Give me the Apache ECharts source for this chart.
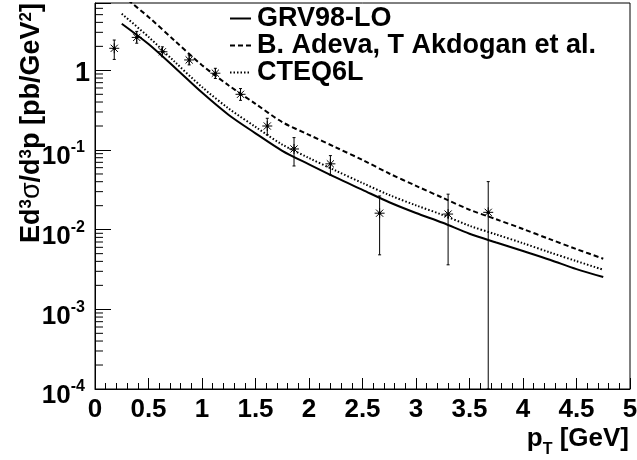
<!DOCTYPE html>
<html>
<head>
<meta charset="utf-8">
<script src="https://cdn.jsdelivr.net/npm/echarts@6/dist/echarts.min.js"></script>
<style>
html,body{margin:0;padding:0;background:#fff;}
#chart{width:637px;height:460px;}
</style>
</head>
<body>
<div id="chart"></div>
<script>
// ---- data points (measured) ----
const pT        = [0.18, 0.39, 0.63, 0.88, 1.125, 1.36, 1.61, 1.86, 2.20, 2.66, 3.30, 3.675];
const sigma     = [1.89, 2.59, 1.71, 1.35, 0.92, 0.50, 0.20, 0.103, 0.067, 0.0161, 0.0157, 0.0165];
const sigmaHigh = [2.40, 3.08, 1.97, 1.56, 1.06, 0.59, 0.25, 0.143, 0.085, 0.0265, 0.0279, 0.0401];
const sigmaLow  = [1.37, 2.19, 1.48, 1.17, 0.79, 0.42, 0.155, 0.063, 0.0486, 0.00483, 0.00362, 0];

// ---- theory curves ----
const curveX = [0.25, 0.5, 0.75, 1.0, 1.25, 1.5, 1.75, 2.0, 2.25, 2.5, 2.75, 3.0, 3.25, 3.5, 3.75, 4.0, 4.25, 4.5, 4.75];
const grv98   = [3.85, 2.14, 1.07, 0.525, 0.275, 0.162, 0.0977, 0.066, 0.0452, 0.0316, 0.0221, 0.0162, 0.0122, 0.0089, 0.0069, 0.0054, 0.0042, 0.0032, 0.00254];
const adeva   = [8.8, 4.68, 2.32, 1.16, 0.646, 0.380, 0.224, 0.155, 0.108, 0.075, 0.0507, 0.0355, 0.0251, 0.0178, 0.0135, 0.0102, 0.0076, 0.0057, 0.00432];
const cteq6l  = [5.13, 2.63, 1.26, 0.617, 0.331, 0.195, 0.117, 0.0794, 0.055, 0.0385, 0.0272, 0.0202, 0.0153, 0.0112, 0.0087, 0.00676, 0.00519, 0.00403, 0.00314];

const seriesNames = ['GRV98-LO', 'B. Adeva, T Akdogan et al.', 'CTEQ6L'];
const xTicks = [0, 0.5, 1, 1.5, 2, 2.5, 3, 3.5, 4, 4.5, 5];

const FONT = "'Liberation Sans', Arial, Helvetica, sans-serif";

// minor tick values on the log axis (2..9 x 10^n)
const yMinorTicks = [];
for (let e = -4; e <= 0; e++) {
  for (let m = 2; m <= 9; m++) {
    const v = m * Math.pow(10, e);
    if (v < 7) yMinorTicks.push([0, v]);
  }
}

function pairs(xs, ys) { return xs.map((x, i) => [x, ys[i]]); }

const pointData = pT.map((x, i) => [x, sigma[i], sigmaLow[i], sigmaHigh[i]]);

function renderPoint(params, api) {
  const x = api.value(0), y = api.value(1), lo = api.value(2), hi = api.value(3);
  const c = api.coord([x, y]);
  const top = api.coord([x, hi])[1];
  const cs = params.coordSys;
  const bot = lo > 0 ? api.coord([x, lo])[1] : cs.y + cs.height;
  const st = { stroke: '#000', lineWidth: 1 };
  const r = 5, d = 3.6, cap = 1.5;
  return {
    type: 'group',
    children: [
      { type: 'line', shape: { x1: c[0], y1: top, x2: c[0], y2: bot }, style: st },
      { type: 'line', shape: { x1: c[0] - cap, y1: top, x2: c[0] + cap, y2: top }, style: st },
      { type: 'line', shape: { x1: c[0] - cap, y1: bot, x2: c[0] + cap, y2: bot }, style: st },
      { type: 'line', shape: { x1: c[0] - r, y1: c[1], x2: c[0] + r, y2: c[1] }, style: st },
      { type: 'line', shape: { x1: c[0], y1: c[1] - r, x2: c[0], y2: c[1] + r }, style: st },
      { type: 'line', shape: { x1: c[0] - d, y1: c[1] - d, x2: c[0] + d, y2: c[1] + d }, style: st },
      { type: 'line', shape: { x1: c[0] - d, y1: c[1] + d, x2: c[0] + d, y2: c[1] - d }, style: st },
      { type: 'circle', shape: { cx: c[0], cy: c[1], r: 1.6 }, style: { fill: '#000' } }
    ]
  };
}

function renderMinorTick(params, api) {
  const p = api.coord([api.value(0), api.value(1)]);
  return { type: 'line', shape: { x1: p[0], y1: p[1], x2: p[0] + 8, y2: p[1] }, style: { stroke: '#000', lineWidth: 1 } };
}

const chart = echarts.init(document.getElementById('chart'), null, { renderer: 'canvas' });

const lineCommon = { type: 'line', showSymbol: false, symbol: 'none', smooth: 0.3, clip: true, silent: true, z: 3 };

chart.setOption({
  animation: false,
  backgroundColor: '#fff',
  textStyle: { fontFamily: FONT },
  grid: { left: 95, right: 7, top: 3, bottom: 71, show: true, borderColor: '#000', borderWidth: 1, backgroundColor: 'transparent', containLabel: false, outerBoundsMode: 'none' },
  legend: {
    data: seriesNames,
    orient: 'vertical',
    left: 229, top: 5,
    padding: 0,
    itemGap: 0,
    itemWidth: 21, itemHeight: 10,
    selectedMode: false,
    itemStyle: { color: 'rgba(0,0,0,0)', borderWidth: 0, opacity: 0 },
    textStyle: { fontSize: 27, fontWeight: 'bold', color: '#000', fontFamily: FONT, lineHeight: 22, padding: [0, 0, 0, 1] }
  },
  graphic: [{
    type: 'text',
    x: 45, y: 3,
    rotation: Math.PI / 2,
    silent: true,
    style: {
      text: '{m|Ed}{s|3}{g|σ}{m|/d}{s|3}{m|p [pb/GeV}{s|2}{m|]}',
      align: 'right', verticalAlign: 'bottom',
      rich: {
        m: { fontSize: 27, fontWeight: 'bold', fill: '#000', fontFamily: FONT },
        g: { fontSize: 27, fontWeight: 'normal', fill: '#000', fontFamily: FONT },
        s: { fontSize: 17, fontWeight: 'bold', fill: '#000', fontFamily: FONT, verticalAlign: 'top' }
      }
    }
  }],
  xAxis: {
    type: 'value', min: 0, max: 5, interval: 0.5,
    axisLine: { show: true, onZero: false, lineStyle: { color: '#000', width: 1 } },
    axisTick: { show: true, inside: true, length: 11, lineStyle: { color: '#000', width: 1 } },
    minorTick: { show: true, splitNumber: 5, length: 6, lineStyle: { color: '#000', width: 1 } },
    splitLine: { show: false },
    axisLabel: {
      fontSize: 26, fontWeight: 'bold', color: '#000', fontFamily: FONT, margin: 8,
      formatter: v => xTicks.includes(v) ? String(v) : ''
    },
    name: '{p|p}{t|T}{p| [GeV]}',
    nameLocation: 'end', nameGap: -1,
    nameTextStyle: {
      align: 'right', verticalAlign: 'top', padding: [31, 0, 0, 0],
      rich: {
        p: { fontSize: 26, fontWeight: 'bold', color: '#000', fontFamily: FONT },
        t: { fontSize: 16, fontWeight: 'bold', color: '#000', fontFamily: FONT, verticalAlign: 'top', padding: [22, 0, 0, 0] }
      }
    }
  },
  yAxis: {
    type: 'log', logBase: 10, min: 1e-4, max: 7,
    axisLine: { show: true, lineStyle: { color: '#000', width: 1 } },
    axisTick: { show: true, inside: true, length: 16, lineStyle: { color: '#000', width: 1 } },
    splitLine: { show: false },
    axisLabel: {
      margin: 5,
      formatter: function (v) {
        const l = Math.log10(v), e = Math.round(l);
        if (Math.abs(l - e) > 1e-6) return '';
        if (e === 0) return '{one|1}';
        return '{b|10}{s|' + e + '}';
      },
      rich: {
        one: { fontSize: 27, fontWeight: 'bold', color: '#000', fontFamily: FONT, padding: [6, 0, 0, 0] },
        b: { fontSize: 26, fontWeight: 'bold', color: '#000', fontFamily: FONT, padding: [14, 0, 0, 0] },
        s: { fontSize: 16, fontWeight: 'bold', color: '#000', fontFamily: FONT, verticalAlign: 'top', padding: [10, 5, 0, 0] }
      }
    }
  },
  series: [
    Object.assign({}, lineCommon, { name: seriesNames[0], data: pairs(curveX, grv98), lineStyle: { color: '#000', width: 2, type: 'solid' }, itemStyle: { color: '#000' } }),
    Object.assign({}, lineCommon, { name: seriesNames[1], data: pairs(curveX, adeva), lineStyle: { color: '#000', width: 2, type: [5, 3] }, itemStyle: { color: '#000' } }),
    Object.assign({}, lineCommon, { name: seriesNames[2], data: pairs(curveX, cteq6l), lineStyle: { color: '#000', width: 2, type: [1.5, 2] }, itemStyle: { color: '#000' } }),
    { type: 'custom', name: 'data', data: pointData, renderItem: renderPoint, encode: { x: 0, y: 1 }, silent: true, z: 4, clip: true },
    { type: 'custom', name: 'yminor', data: yMinorTicks, renderItem: renderMinorTick, encode: { x: 0, y: 1 }, silent: true, z: 2 }
  ]
});
</script>
</body>
</html>
